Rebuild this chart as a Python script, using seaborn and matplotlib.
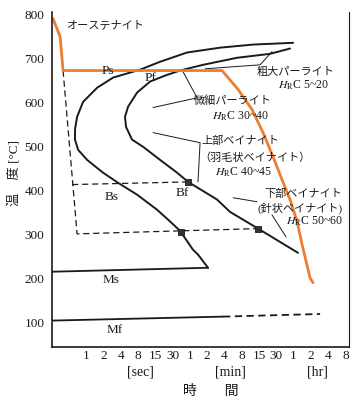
import matplotlib
matplotlib.use("Agg")
import matplotlib.pyplot as plt
import numpy as np
import pandas as pd
import seaborn as sns

# ---------------- data (x = time tick index, y = temperature °C) ----------------
tick_labels = ["1", "2", "4", "8", "15", "30", "1", "2", "4", "8", "15", "30", "1", "2", "4", "8"]
y_ticks = [100, 200, 300, 400, 500, 600, 700, 800]

# transformation start curve (Ps / Bs)
start_x = [11.97, 9.65, 7.75, 5.84, 4.28, 3.12, 1.56, 0.64, -0.17, -0.52, -0.64, -0.64, -0.46,
           0.06, 0.98, 1.85, 2.95, 4.10, 4.86, 5.43, 6.18, 6.47, 7.05]
start_t = [736, 732, 725, 714, 693, 675, 657, 634, 602, 568, 539, 516, 493,
           470, 441, 418, 391, 357, 330, 309, 266, 255, 225]

# transformation finish curve (Pf / Bf)
finish_x = [11.79, 10.64, 8.73, 6.76, 5.43, 4.6, 3.70, 2.95, 2.43, 2.25, 2.31, 2.66, 3.29,
            4.28, 5.26, 5.90, 7.57, 8.32, 9.94, 12.25]
finish_t = [723, 711, 702, 686, 673, 662, 648, 623, 591, 568, 545, 516, 500,
            470, 441, 420, 380, 352, 314, 259]

# cooling curve (orange)
cool_x = [-1.91, -1.50, -1.33, 7.86, 8.79, 9.60, 10.23, 10.81, 11.33, 11.79, 12.20, 12.49, 12.95, 13.12]
cool_t = [791, 750, 673, 673, 630, 584, 532, 477, 425, 380, 330, 277, 202, 191]

# dashed guide lines
guide_x = [-1.33, -0.52, 9.94]
guide_t = [673, 302, 314]
b400_x = [-0.81, 5.90]
b400_t = [414, 420]

# Ms / Mf lines
ms_x = [-1.97, 7.05]
ms_t = [216, 225]
mf_x = [-1.97, 7.92]
mf_t = [105, 114]
mf_dash_x = [7.92, 13.53]
mf_dash_t = [114, 120]

# marked points
dot_x = [5.90, 5.50, 9.94]
dot_t = [420, 307, 314]

# leader lines
lead1_x = [6.88, 10.06, 10.75]
lead1_t = [677, 686, 716]
lead2_x = [5.61, 6.42, 3.87]
lead2_t = [670, 611, 589]
lead3_x = [3.87, 6.59, 6.47]
lead3_t = [532, 509, 420]
lead4_x = [8.50, 9.88]
lead4_t = [384, 375]
lead5_x = [10.75, 11.56]
lead5_t = [345, 295]

# ---------------- style ----------------
sns.set_theme(style="white")
plt.rcParams["font.family"] = ["Liberation Serif", "Noto Sans CJK JP", "DejaVu Sans"]
plt.rcParams["mathtext.fontset"] = "stix"

INK = "#1a1a1a"
ORANGE = "#ED7D31"

fig = plt.figure(figsize=(3.54, 4.01), dpi=100)
ax = fig.add_axes([52 / 354, 54 / 401, 297 / 354, 335 / 401])
ax.set_facecolor("white")


def line(x, y, **kw):
    df = pd.DataFrame({"x": x, "y": y})
    sns.lineplot(data=df, x="x", y="y", sort=False, estimator=None, ax=ax, **kw)


line(start_x, start_t, color=INK, lw=1.4)
line(finish_x, finish_t, color=INK, lw=1.4)
line(ms_x, ms_t, color=INK, lw=1.3)
line(mf_x, mf_t, color=INK, lw=1.3)
line(mf_dash_x, mf_dash_t, color=INK, lw=1.3, linestyle=(0, (4, 2.5)))
line(guide_x, guide_t, color=INK, lw=0.9, linestyle=(0, (5, 3)))
line(b400_x, b400_t, color=INK, lw=0.9, linestyle=(0, (5, 3)))
for lx, lt in [(lead1_x, lead1_t), (lead2_x, lead2_t), (lead3_x, lead3_t),
               (lead4_x, lead4_t), (lead5_x, lead5_t)]:
    line(lx, lt, color=INK, lw=0.7)
line(cool_x, cool_t, color=ORANGE, lw=2.0)

sns.scatterplot(x=dot_x, y=dot_t, ax=ax, marker="s", s=14, color="#333333",
                edgecolor=INK, linewidth=0.6, zorder=5)

# ---------------- axes ----------------
ax.set_xlim(-1.97, 15.2)
ax.set_ylim(45, 806)
ax.set_xticks(range(len(tick_labels)))
ax.set_xticklabels(tick_labels, fontsize=9.5, color=INK)
ax.set_yticks(y_ticks)
ax.set_yticklabels([str(v) for v in y_ticks], fontsize=9.5, color=INK)
ax.tick_params(axis="x", direction="in", length=5, width=0.8, pad=2, colors=INK)
ax.tick_params(axis="y", direction="out", length=4, width=0.9, pad=1.5, colors=INK)
ax.set_xlabel("")
ax.set_ylabel("")
for side in ["left", "bottom", "right"]:
    ax.spines[side].set_visible(True)
    ax.spines[side].set_color(INK)
    ax.spines[side].set_linewidth(1.2)
ax.spines["right"].set_linewidth(0.8)
ax.spines["top"].set_visible(False)

# ---------------- labels ----------------
jp = 8
ax.text(-1.16, 777, "オーステナイト", fontsize=jp, ha="left", va="center", color=INK)
for s, x, y in [("Ps", 1.27, 673), ("Pf", 3.70, 657), ("Bs", 1.45, 386),
                ("Bf", 5.55, 395), ("Ms", 1.45, 198), ("Mf", 1.68, 84)]:
    ax.text(x, y, s, fontsize=9.5, ha="center", va="center", color=INK)

ax.text(12.08, 670, "粗大パーライト", fontsize=jp, ha="center", va="center", color=INK)
ax.text(12.54, 639, r"$H_{\rm R}$C 5~20", fontsize=8.5, ha="center", va="center", color=INK)
ax.text(8.50, 605, "微細パーライト", fontsize=jp, ha="center", va="center", color=INK)
ax.text(8.90, 570, r"$H_{\rm R}$C 30~40", fontsize=8.5, ha="center", va="center", color=INK)
ax.text(8.90, 514, "上部ベイナイト", fontsize=jp, ha="center", va="center", color=INK)
ax.text(9.77, 475, "（羽毛状ベイナイト）", fontsize=jp, ha="center", va="center", color=INK)
ax.text(9.08, 443, r"$H_{\rm R}$C 40~45", fontsize=8.5, ha="center", va="center", color=INK)
ax.text(12.54, 393, "下部ベイナイト", fontsize=jp, ha="center", va="center", color=INK)
ax.text(12.37, 361, "(針状ベイナイト)", fontsize=jp, ha="center", va="center", color=INK)
ax.text(13.18, 330, r"$H_{\rm R}$C 50~60", fontsize=8.5, ha="center", va="center", color=INK)

xt = ax.get_xaxis_transform()
ax.text(3.12, -0.075, "[sec]", transform=xt, fontsize=10, ha="center", va="center", color=INK)
ax.text(8.32, -0.075, "[min]", transform=xt, fontsize=10, ha="center", va="center", color=INK)
ax.text(13.35, -0.075, "[hr]", transform=xt, fontsize=10, ha="center", va="center", color=INK)
ax.text(7.23, -0.134, "時　　間", transform=xt, fontsize=10, ha="center", va="center", color=INK)

fig.text(14 / 354, 1 - 173 / 401, "温　度 [°C]", rotation=90, fontsize=9.5,
         ha="center", va="center", color=INK)

fig.savefig("out.png", dpi=100, facecolor="white")
